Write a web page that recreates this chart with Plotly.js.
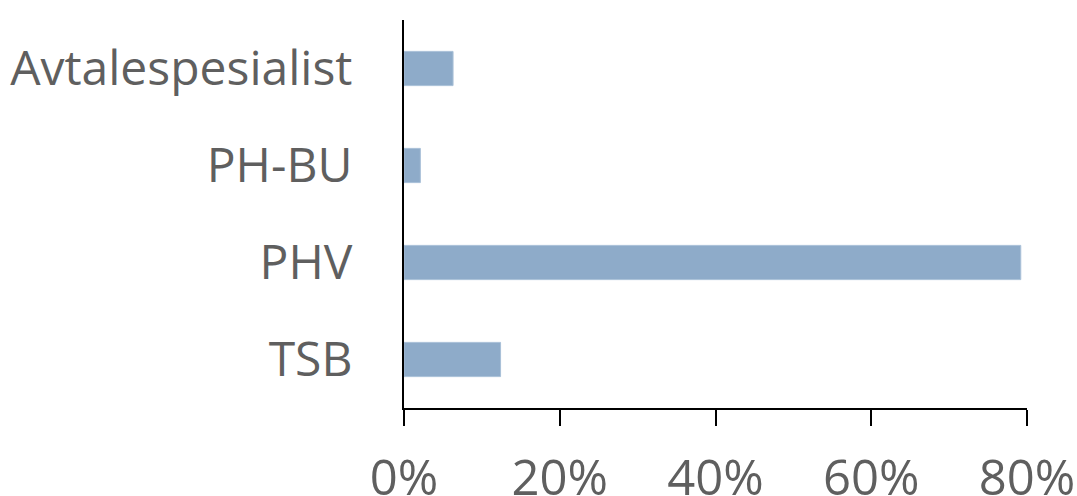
<!DOCTYPE html>
<html>
<head>
<meta charset="utf-8">
<script src="https://cdn.plot.ly/plotly-3.0.1.min.js"></script>
<style>html,body{margin:0;padding:0;background:#fff;}#chart{width:1077px;height:496px;}</style>
</head>
<body>
<div id="chart"></div>
<script>
var categories = ["Avtalespesialist", "PH-BU", "PHV", "TSB"];
var values = [0.063, 0.021, 0.792, 0.124];
var tickVals = [0, 0.2, 0.4, 0.6, 0.8];
var tickLabels = ["0%", "20%", "40%", "60%", "80%"];

var trace = {
  type: "bar",
  orientation: "h",
  y: categories,
  x: values,
  marker: {color: "#8eabc9", line: {color: "#a9c0d8", width: 1}},
  hoverinfo: "none"
};

var layout = {
  width: 1077,
  height: 496,
  margin: {l: 404, r: 50, t: 20, b: 88, pad: 0},
  paper_bgcolor: "#ffffff",
  plot_bgcolor: "#ffffff",
  bargap: 0.647,
  showlegend: false,
  font: {family: "Open Sans", color: "#5f5f5f", size: 48},
  xaxis: {
    range: [0, 0.8],
    tickvals: tickVals,
    ticktext: tickLabels,
    showgrid: false,
    zeroline: false,
    showline: true,
    linecolor: "#000000",
    linewidth: 2,
    ticks: "outside",
    ticklen: 16,
    tickwidth: 2,
    tickcolor: "#000000",
    ticklabelstandoff: 10,
    tickfont: {family: "Open Sans", size: 49, color: "#5f5f5f"},
    fixedrange: true
  },
  yaxis: {
    categoryorder: "array",
    categoryarray: categories.slice().reverse(),
    range: [-0.5, 3.5],
    showgrid: false,
    zeroline: false,
    showline: true,
    linecolor: "#000000",
    linewidth: 2,
    ticks: "",
    ticklabelstandoff: 40,
    tickfont: {family: "Open Sans", size: 48, color: "#5f5f5f"},
    fixedrange: true
  }
};

Plotly.newPlot("chart", [trace], layout, {displayModeBar: false, staticPlot: true});
</script>
</body>
</html>
